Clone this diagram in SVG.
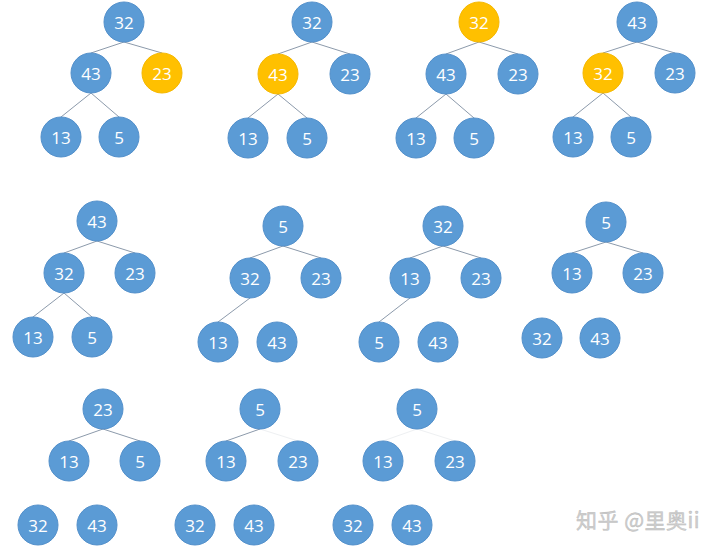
<svg xmlns="http://www.w3.org/2000/svg" width="720" height="547" viewBox="0 0 720 547">
<style>
.n circle{fill:#5b9bd5;stroke:#5390cb;stroke-width:1}
.o circle{fill:#ffc000;stroke:#f5b800;stroke-width:1}
text.t{font-family:"Open Sans","Liberation Sans",sans-serif;font-size:17px;fill:#fff;text-anchor:middle;dominant-baseline:central}
.e line{stroke:#8c9aab;stroke-width:1}
.e line.f{stroke:#eef0f2}
.wm{font-family:"Noto Sans CJK SC","Noto Sans",sans-serif;font-size:21px;letter-spacing:0.5px;fill:#cfcfcf;stroke:#b9b9b9;stroke-width:0.4}
</style>
<rect width="720" height="547" fill="#fff"/>
<g id="edges" class="e">
<line x1="124" y1="42" x2="91" y2="53"/><line x1="124" y1="42" x2="162" y2="53"/>
<line x1="91" y1="93" x2="61" y2="117"/><line x1="91" y1="93" x2="119" y2="117"/>
<line x1="312" y1="42" x2="278" y2="54"/><line x1="312" y1="42" x2="350" y2="54"/>
<line x1="278" y1="94" x2="248" y2="118"/><line x1="278" y1="94" x2="307" y2="118"/>
<line x1="479" y1="42" x2="446" y2="54"/><line x1="479" y1="42" x2="518" y2="54"/>
<line x1="446" y1="94" x2="416" y2="118"/><line x1="446" y1="94" x2="474" y2="118"/>
<line x1="637" y1="42" x2="603" y2="53"/><line x1="637" y1="42" x2="675" y2="53"/>
<line x1="603" y1="93" x2="573" y2="117"/><line x1="603" y1="93" x2="631" y2="117"/>
<line x1="97" y1="241" x2="64" y2="253"/><line x1="97" y1="241" x2="135" y2="253"/>
<line x1="64" y1="293" x2="33" y2="317"/><line x1="64" y1="293" x2="92" y2="317"/>
<line x1="283" y1="246" x2="250" y2="258"/><line x1="283" y1="246" x2="321" y2="258"/>
<line x1="250" y1="298" x2="218" y2="322"/>
<line x1="443" y1="246" x2="410" y2="258"/><line x1="443" y1="246" x2="481" y2="258"/>
<line x1="410" y1="298" x2="379" y2="322"/>
<line x1="606" y1="242" x2="572" y2="253"/><line x1="606" y1="242" x2="643" y2="253"/>
<line x1="103" y1="429" x2="69" y2="441"/><line x1="103" y1="429" x2="140" y2="441"/>
<line x1="260" y1="429" x2="226" y2="441"/><line class="f" x1="260" y1="429" x2="298" y2="441"/>
<line class="f" x1="417" y1="429" x2="383" y2="441"/><line class="f" x1="417" y1="429" x2="455" y2="441"/>
</g>
<g id="tree1">
<g id="t1-32" class="n"><circle cx="124" cy="22" r="20"/><text class="t" x="124" y="22">32</text></g>
<g id="t1-43" class="n"><circle cx="91" cy="73" r="20"/><text class="t" x="91" y="73">43</text></g>
<g id="t1-23" class="o"><circle cx="162" cy="73" r="20"/><text class="t" x="162" y="73">23</text></g>
<g id="t1-13" class="n"><circle cx="61" cy="137" r="20"/><text class="t" x="61" y="137">13</text></g>
<g id="t1-5" class="n"><circle cx="119" cy="137" r="20"/><text class="t" x="119" y="137">5</text></g>
</g>
<g id="tree2">
<g id="t2-32" class="n"><circle cx="312" cy="22" r="20"/><text class="t" x="312" y="22">32</text></g>
<g id="t2-43" class="o"><circle cx="278" cy="74" r="20"/><text class="t" x="278" y="74">43</text></g>
<g id="t2-23" class="n"><circle cx="350" cy="74" r="20"/><text class="t" x="350" y="74">23</text></g>
<g id="t2-13" class="n"><circle cx="248" cy="138" r="20"/><text class="t" x="248" y="138">13</text></g>
<g id="t2-5" class="n"><circle cx="307" cy="138" r="20"/><text class="t" x="307" y="138">5</text></g>
</g>
<g id="tree3">
<g id="t3-32" class="o"><circle cx="479" cy="22" r="20"/><text class="t" x="479" y="22">32</text></g>
<g id="t3-43" class="n"><circle cx="446" cy="74" r="20"/><text class="t" x="446" y="74">43</text></g>
<g id="t3-23" class="n"><circle cx="518" cy="74" r="20"/><text class="t" x="518" y="74">23</text></g>
<g id="t3-13" class="n"><circle cx="416" cy="138" r="20"/><text class="t" x="416" y="138">13</text></g>
<g id="t3-5" class="n"><circle cx="474" cy="138" r="20"/><text class="t" x="474" y="138">5</text></g>
</g>
<g id="tree4">
<g id="t4-43" class="n"><circle cx="637" cy="22" r="20"/><text class="t" x="637" y="22">43</text></g>
<g id="t4-32" class="o"><circle cx="603" cy="73" r="20"/><text class="t" x="603" y="73">32</text></g>
<g id="t4-23" class="n"><circle cx="675" cy="73" r="20"/><text class="t" x="675" y="73">23</text></g>
<g id="t4-13" class="n"><circle cx="573" cy="137" r="20"/><text class="t" x="573" y="137">13</text></g>
<g id="t4-5" class="n"><circle cx="631" cy="137" r="20"/><text class="t" x="631" y="137">5</text></g>
</g>
<g id="tree5">
<g id="t5-43" class="n"><circle cx="97" cy="221" r="20"/><text class="t" x="97" y="221">43</text></g>
<g id="t5-32" class="n"><circle cx="64" cy="273" r="20"/><text class="t" x="64" y="273">32</text></g>
<g id="t5-23" class="n"><circle cx="135" cy="273" r="20"/><text class="t" x="135" y="273">23</text></g>
<g id="t5-13" class="n"><circle cx="33" cy="337" r="20"/><text class="t" x="33" y="337">13</text></g>
<g id="t5-5" class="n"><circle cx="92" cy="337" r="20"/><text class="t" x="92" y="337">5</text></g>
</g>
<g id="tree6">
<g id="t6-5" class="n"><circle cx="283" cy="226" r="20"/><text class="t" x="283" y="226">5</text></g>
<g id="t6-32" class="n"><circle cx="250" cy="278" r="20"/><text class="t" x="250" y="278">32</text></g>
<g id="t6-23" class="n"><circle cx="321" cy="278" r="20"/><text class="t" x="321" y="278">23</text></g>
<g id="t6-13" class="n"><circle cx="218" cy="342" r="20"/><text class="t" x="218" y="342">13</text></g>
<g id="t6-43" class="n"><circle cx="277" cy="342" r="20"/><text class="t" x="277" y="342">43</text></g>
</g>
<g id="tree7">
<g id="t7-32" class="n"><circle cx="443" cy="226" r="20"/><text class="t" x="443" y="226">32</text></g>
<g id="t7-13" class="n"><circle cx="410" cy="278" r="20"/><text class="t" x="410" y="278">13</text></g>
<g id="t7-23" class="n"><circle cx="481" cy="278" r="20"/><text class="t" x="481" y="278">23</text></g>
<g id="t7-5" class="n"><circle cx="379" cy="342" r="20"/><text class="t" x="379" y="342">5</text></g>
<g id="t7-43" class="n"><circle cx="438" cy="342" r="20"/><text class="t" x="438" y="342">43</text></g>
</g>
<g id="tree8">
<g id="t8-5" class="n"><circle cx="606" cy="222" r="20"/><text class="t" x="606" y="222">5</text></g>
<g id="t8-13" class="n"><circle cx="572" cy="273" r="20"/><text class="t" x="572" y="273">13</text></g>
<g id="t8-23" class="n"><circle cx="643" cy="273" r="20"/><text class="t" x="643" y="273">23</text></g>
<g id="t8-32" class="n"><circle cx="542" cy="338" r="20"/><text class="t" x="542" y="338">32</text></g>
<g id="t8-43" class="n"><circle cx="600" cy="338" r="20"/><text class="t" x="600" y="338">43</text></g>
</g>
<g id="tree9">
<g id="t9-23" class="n"><circle cx="103" cy="409" r="20"/><text class="t" x="103" y="409">23</text></g>
<g id="t9-13" class="n"><circle cx="69" cy="461" r="20"/><text class="t" x="69" y="461">13</text></g>
<g id="t9-5" class="n"><circle cx="140" cy="461" r="20"/><text class="t" x="140" y="461">5</text></g>
<g id="t9-32" class="n"><circle cx="38" cy="525" r="20"/><text class="t" x="38" y="525">32</text></g>
<g id="t9-43" class="n"><circle cx="97" cy="525" r="20"/><text class="t" x="97" y="525">43</text></g>
</g>
<g id="tree10">
<g id="t10-5" class="n"><circle cx="260" cy="409" r="20"/><text class="t" x="260" y="409">5</text></g>
<g id="t10-13" class="n"><circle cx="226" cy="461" r="20"/><text class="t" x="226" y="461">13</text></g>
<g id="t10-23" class="n"><circle cx="298" cy="461" r="20"/><text class="t" x="298" y="461">23</text></g>
<g id="t10-32" class="n"><circle cx="195" cy="525" r="20"/><text class="t" x="195" y="525">32</text></g>
<g id="t10-43" class="n"><circle cx="254" cy="525" r="20"/><text class="t" x="254" y="525">43</text></g>
</g>
<g id="tree11">
<g id="t11-5" class="n"><circle cx="417" cy="409" r="20"/><text class="t" x="417" y="409">5</text></g>
<g id="t11-13" class="n"><circle cx="383" cy="461" r="20"/><text class="t" x="383" y="461">13</text></g>
<g id="t11-23" class="n"><circle cx="455" cy="461" r="20"/><text class="t" x="455" y="461">23</text></g>
<g id="t11-32" class="n"><circle cx="353" cy="525" r="20"/><text class="t" x="353" y="525">32</text></g>
<g id="t11-43" class="n"><circle cx="412" cy="525" r="20"/><text class="t" x="412" y="525">43</text></g>
</g>
<text class="wm" x="576" y="528">知乎 @里奥ii</text>
</svg>
